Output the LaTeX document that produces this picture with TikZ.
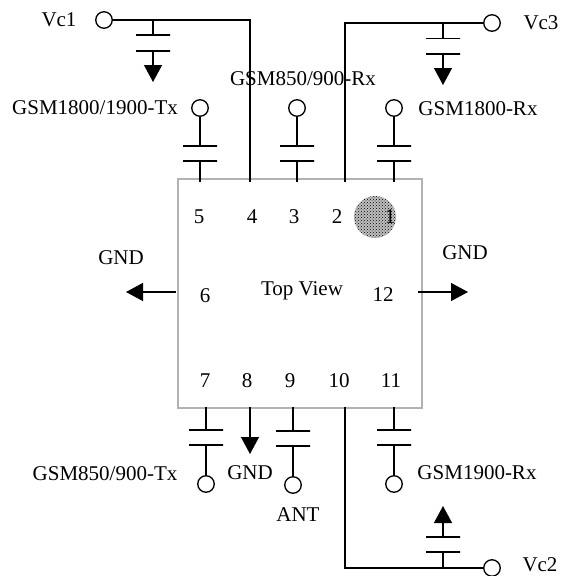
\documentclass[tikz,border=0pt]{standalone}
\usepackage{fontspec}
\setmainfont{Liberation Serif}
\usetikzlibrary{arrows.meta, patterns}

\begin{document}
\begin{tikzpicture}[
  x=1pt, y=-1pt,
  every node/.style={font=\fontsize{21}{24}\selectfont},
  wire/.style={line width=1.3pt},
  plate/.style={draw, line width=1.3pt, minimum width=34pt, minimum height=0pt, inner sep=0pt, outer sep=0pt},
  term/.style={draw, circle, line width=1.3pt, minimum size=16.5pt, inner sep=0pt},
  gndarrow/.style={wire, -{Triangle[length=17pt, width=18pt]}}
]
\useasboundingbox (0,0) rectangle (560,576);

% package
\node (chip) [draw=black!30, line width=1.2pt, minimum width=244pt, minimum height=229pt, inner sep=0pt] at (300,293.5) {};
\node (mark) [circle, minimum size=42pt, inner sep=0pt, preaction={fill=black!25}, pattern=crosshatch dots] at (375,217) {};

% pin numbers
\foreach \num/\x/\y in {5/199/217, 4/252/217, 3/294/217, 2/337/217, 1/390/217,
    6/205/296, 12/383/295, 7/205/381, 8/247/381, 9/290/381, 10/339/381, 11/391/381}
  \node (num\num) at (\x,\y) {\num};
\node (topview) at (302,291) {Top View};

% upper signal pins
\foreach \pin/\x in {five/200, three/297, one/394} {
  \node[term] (t\pin) at (\x,108) {};
  \node[plate] (pa\pin) at (\x,146) {};
  \node[plate] (pb\pin) at (\x,161) {};
  \coordinate (p\pin) at (\x,182);
  \draw[wire] (t\pin) -- (pa\pin);
  \draw[wire] (pb\pin) -- (p\pin);
}

% lower signal pins
\foreach \pin/\x/\y in {seven/206/430, nine/293/431, eleven/394/430} {
  \coordinate (p\pin) at (\x,407);
  \node[plate] (pa\pin) at (\x,\y) {};
  \node[plate] (pb\pin) at (\x,\y+15) {};
  \node[term] (t\pin) at (\x,\y+54) {};
  \draw[wire] (p\pin) -- (pa\pin);
  \draw[wire] (pb\pin) -- (t\pin);
}

% control lines
\node[term] (tvcone) at (104,20) {};
\node[term] (tvcthree) at (492,23) {};
\node[term] (tvctwo) at (492,568) {};
\coordinate (pfour) at (250,182);
\coordinate (ptwo) at (345,182);
\coordinate (pten) at (345,407);
\draw[wire] (tvcone) -| (pfour);
\draw[wire] (tvcthree) -| (ptwo);
\draw[wire] (tvctwo) -| (pten);

% decoupling caps
\coordinate (jvcone) at (153,20);
\node[plate] (pavcone) at (153,35) {};
\node[plate] (pbvcone) at (153,51) {};
\coordinate (gvcone) at (153,82);
\draw[wire] (jvcone) -- (pavcone);
\draw[gndarrow] (pbvcone) -- (gvcone);

\coordinate (jvcthree) at (443,23);
\node[plate] (pavcthree) at (443,38.5) {};
\node[plate] (pbvcthree) at (443,54) {};
\coordinate (gvcthree) at (443,85);
\draw[wire] (jvcthree) -- (pavcthree);
\draw[gndarrow] (pbvcthree) -- (gvcthree);

\coordinate (jvctwo) at (443,568);
\node[plate] (pavctwo) at (443,552) {};
\node[plate] (pbvctwo) at (443,537) {};
\coordinate (gvctwo) at (443,506);
\draw[wire] (jvctwo) -- (pavctwo);
\draw[gndarrow] (pbvctwo) -- (gvctwo);

% ground arrows
\coordinate (peight) at (250,407);
\coordinate (geight) at (250,454);
\draw[gndarrow] (peight) -- (geight);
\coordinate (psix) at (176,292);
\coordinate (gsix) at (126,292);
\draw[gndarrow] (psix) -- (gsix);
\coordinate (ptwelve) at (418,292);
\coordinate (gtwelve) at (468,292);
\draw[gndarrow] (ptwelve) -- (gtwelve);

% labels
\node (lvcone) at (59,20) {Vc1};
\node (lvcthree) at (541,23) {Vc3};
\node (lvctwo) at (540,565) {Vc2};
\node (ltxhigh) at (95,108) {GSM1800/1900-Tx};
\node (lrxlow) at (303,79) {GSM850/900-Rx};
\node (lrxdcs) at (478,109) {GSM1800-Rx};
\node (lgndleft) at (121,258) {GND};
\node (lgndright) at (465,253) {GND};
\node (ltxlow) at (105,474) {GSM850/900-Tx};
\node (lgndlow) at (250,473) {GND};
\node (lant) at (298,515) {ANT};
\node (lrxpcs) at (477,473) {GSM1900-Rx};
\end{tikzpicture}
\end{document}
